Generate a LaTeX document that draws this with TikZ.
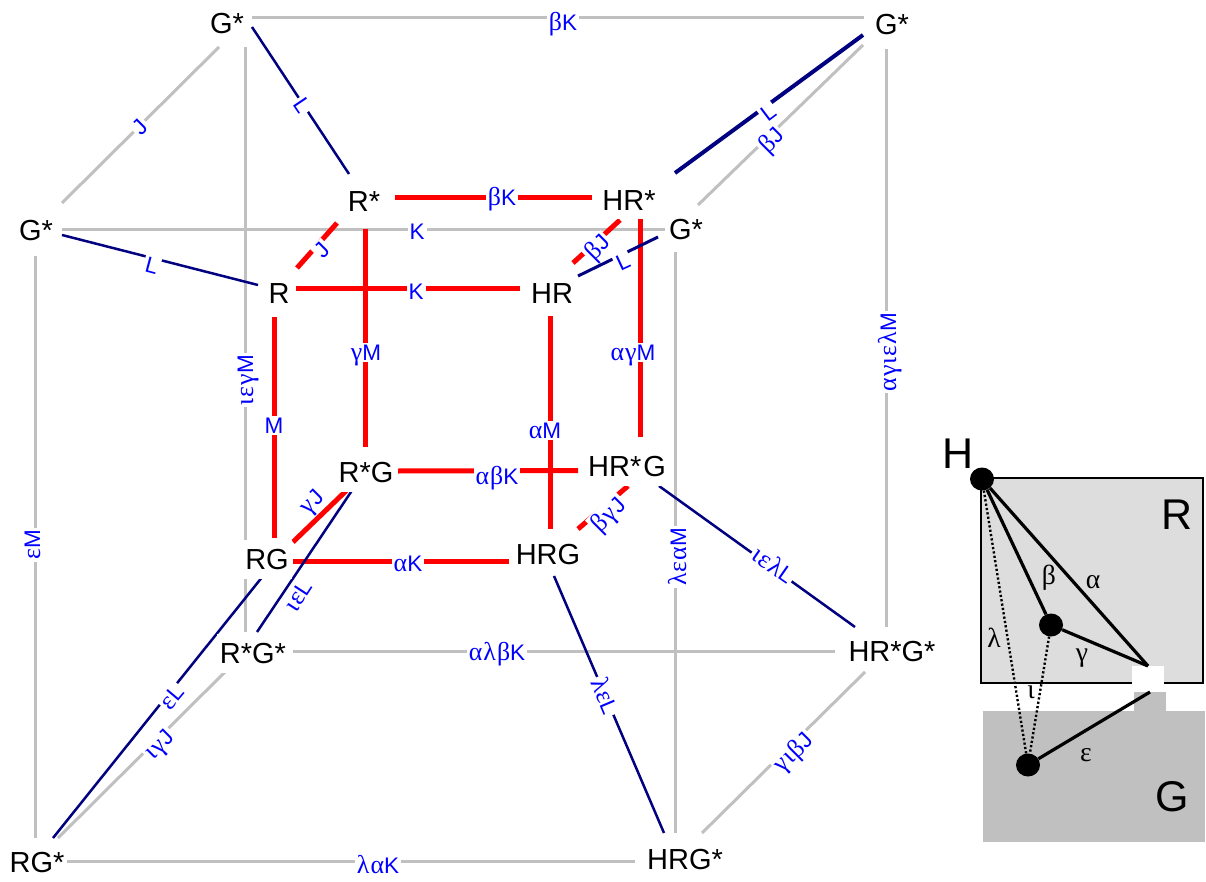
\documentclass[tikz,border=0pt]{standalone}
\usepackage{fontspec}
\setmainfont{Liberation Sans}
\newfontfamily\grk[Scale=1.15,LetterSpace=4]{Liberation Serif}
\newcommand{\gk}[1]{{\grk #1}}
\usetikzlibrary{shapes.geometric}
\pgfdeclarelayer{lines}
\pgfsetlayers{lines,main}
\definecolor{edgegray}{HTML}{C0C0C0}
\definecolor{edgenavy}{HTML}{000080}
\definecolor{boxlight}{HTML}{DDDDDD}
\tikzset{
  vx/.style={font=\fontsize{29}{30}\selectfont,text=black,text height=21pt,text depth=0pt,fill=white,inner xsep=3pt,inner ysep=9pt},
  lab/.style={font=\fontsize{22.5}{23}\selectfont,text=blue,text height=16pt,text depth=0pt,fill=white,inner xsep=2pt,inner ysep=1.5pt},
  gline/.style={draw=edgegray,line width=3pt},
  nline/.style={draw=edgenavy,line width=2.5pt},
  rline/.style={draw=red,line width=5pt},
  dot/.style={ellipse,fill=black,inner sep=0pt,minimum width=24pt,minimum height=23pt},
  blk/.style={draw=black,line width=3.2pt},
  dots/.style={draw=black,line width=2.4pt,dash pattern=on 2.2pt off 2.2pt},
  glab/.style={font=\fontsize{24}{25}\selectfont\grk,text=black,inner sep=0pt},
  big/.style={font=\fontsize{43}{44}\selectfont,text=black,inner sep=0pt,text height=31pt,text depth=0pt}
}
\begin{document}
\begin{tikzpicture}[x=1pt,y=-1pt]
\useasboundingbox (0,0) rectangle (1206,882);
% vertices
\node[vx] (Gtl) at (227,23) {G*};
\node[vx] (Gtr) at (892,24) {G*};
\node[vx] (Gml) at (36,230) {G*};
\node[vx] (Gmr) at (686,229) {G*};
\node[vx] (RsGs) at (253,653) {R*G*};
\node[vx] (HRsGs) at (892,651) {HR*G*};
\node[vx] (RGs) at (37,862) {RG*};
\node[vx] (HRGs) at (685,859) {HRG*};
\node[vx] (Rs) at (364,201) {R*};
\node[vx] (HRs) at (629,200) {HR*};
\node[vx] (R) at (279,293) {R};
\node[vx] (HR) at (552,293) {HR};
\node[vx] (RsG) at (366,472) {R*G};
\node[vx] (HRsG) at (627,466) {HR*\kern2pt G};
\node[vx] (RG) at (267,559) {RG};
\node[vx] (HRG) at (548,554) {HRG};
% right-hand panel shapes and nodes
\begin{pgfonlayer}{lines}
\fill[edgegray] (983,711) rectangle (1205,842);
\fill[edgegray] (1134,692) rectangle (1166,711);
\filldraw[fill=boxlight,draw=black,line width=1.5pt] (981,478) rectangle (1203,683);
\fill[white] (1132,666) rectangle (1164,692);
\end{pgfonlayer}
\coordinate (apexA) at (1148,666);
\coordinate (apexB) at (1150,692);
\node[dot] (dH) at (982,479) {};
\node[dot] (dM) at (1051,625) {};
\node[dot] (dB) at (1028,765) {};
\begin{pgfonlayer}{lines}
\draw[blk] (dH) -- (apexA);
\draw[blk] (dH) -- (dM);
\draw[blk] (dM) -- (apexA);
\draw[blk] (dB) -- (apexB);
\draw[dots] (dH) -- (dB);
\draw[dots] (dM) -- (dB);
% gray edges
\draw[gline] ([shift={(25,-5)}]Gtl.center) -- ([shift={(-28,-6)}]Gtr.center);
\draw[gline] ([shift={(-8,24)}]Gtl.center) -- ([shift={(26,-27)}]Gml.center);
\draw[gline] ([shift={(-29,21)}]Gtr.center) -- ([shift={(12,-24)}]Gmr.center);
\draw[gline] ([shift={(26,-.5)}]Gml.center) -- ([shift={(-21,.5)}]Gmr.center);
\draw[gline] ([shift={(18.5,24)}]Gtl.center) -- ([shift={(-7.5,-21)}]RsGs.center);
\draw[gline] ([shift={(-.5,26)}]Gml.center) -- ([shift={(-1.5,-24)}]RGs.center);
\draw[gline] ([shift={(-5.5,25)}]Gtr.center) -- ([shift={(-5.5,-24)}]HRsGs.center);
\draw[gline] ([shift={(-10.5,23)}]Gmr.center) -- ([shift={(-9.5,-26)}]HRGs.center);
\draw[gline] ([shift={(40,-2)}]RsGs.center) -- ([shift={(-57,0)}]HRsGs.center);
\draw[gline] ([shift={(-26,17)}]RsGs.center) -- ([shift={(21,-24)}]RGs.center);
\draw[gline] ([shift={(-27,21)}]HRsGs.center) -- ([shift={(17,-26)}]HRGs.center);
\draw[gline] ([shift={(29,-1)}]RGs.center) -- ([shift={(-50,2)}]HRGs.center);
% red edges
\draw[rline] ([shift={(31,-3)}]Rs.center) -- ([shift={(-37,-2)}]HRs.center);
\draw[rline] ([shift={(-27,22)}]Rs.center) -- ([shift={(18,-25)}]R.center);
\draw[rline] ([shift={(-9,20)}]HRs.center) -- ([shift={(21,-30)}]HR.center);
\draw[rline] ([shift={(1,28)}]Rs.center) -- ([shift={(-1,-25)}]RsG.center);
\draw[rline] ([shift={(11,19)}]HRs.center) -- ([shift={(13,-29)}]HRsG.center);
\draw[rline] ([shift={(17,-4)}]R.center) -- ([shift={(-32,-4)}]HR.center);
\draw[rline] ([shift={(-5,24)}]R.center) -- ([shift={(7,-21)}]RG.center);
\draw[rline] ([shift={(-2,23)}]HR.center) -- ([shift={(2,-25)}]HRG.center);
\draw[rline] ([shift={(32,-1)}]RsG.center) -- ([shift={(-49,4.5)}]HRsG.center);
\draw[rline] ([shift={(-18,17)}]RsG.center) -- ([shift={(26,-17)}]RG.center);
\draw[rline] ([shift={(1,20)}]HRsG.center) -- ([shift={(30,-25)}]HRG.center);
\draw[rline] ([shift={(26,2)}]RG.center) -- ([shift={(-39,7)}]HRG.center);
% navy edges
\draw[nline] ([shift={(25,4)}]Gtl.center) -- ([shift={(-15,-27)}]Rs.center);
\draw[nline,line width=4pt] ([shift={(-29,11)}]Gtr.center) -- ([shift={(46,-27)}]HRs.center);
\draw[nline] ([shift={(26,5)}]Gml.center) -- ([shift={(-21,-8)}]R.center);
\draw[nline,line width=3pt] ([shift={(-28,8)}]Gmr.center) -- ([shift={(26,-17)}]HR.center);
\draw[nline] ([shift={(-13,17)}]RsG.center) -- ([shift={(4,-21)}]RsGs.center);
\draw[nline] ([shift={(-4,17)}]RG.center) -- ([shift={(16,-24)}]RGs.center);
\draw[nline] ([shift={(32,20)}]HRsG.center) -- ([shift={(-37,-24)}]HRsGs.center);
\draw[nline] ([shift={(6,22)}]HRG.center) -- ([shift={(-21,-26)}]HRGs.center);
\end{pgfonlayer}
% edge labels
\node[lab] (l1) at (563,23) {\gk{β}K};
\node[lab,rotate=45] (l2) at (140,127) {J};
\node[lab,rotate=45] (l3) at (771,140) {\gk{β}J};
\node[lab,rotate=37] (l4) at (768,112) {L};
\node[lab,rotate=-56] (l5) at (303,105) {L};
\node[lab,rotate=-15] (l6) at (152,265) {L};
\node[lab] (l7) at (417,232) {K};
\node[lab,rotate=90] (l8) at (245,380) {\gk{ιεγ}M};
\node[lab,rotate=90] (l9) at (888,352) {\gk{αγιελ}M};
\node[lab,rotate=90] (l10) at (32,545) {\gk{ε}M};
\node[lab,rotate=90] (l11) at (678,557) {\gk{λεα}M};
\node[lab] (l12) at (497,652) {\gk{αλβ}K};
\node[lab,rotate=45] (l13) at (159,744) {\gk{ιγ}\kern1pt J};
\node[lab,rotate=45] (l14) at (793,752) {\gk{γιβ}J};
\node[lab] (l15) at (378,865) {\gk{λα}K};
\node[lab,rotate=50] (l16) at (172,697) {\gk{ε}L};
\node[lab,rotate=57] (l17) at (298,596) {\gk{ιε}L};
\node[lab,rotate=-35] (l18) at (773,565) {\gk{ιελ}L};
\node[lab,rotate=-67] (l19) at (605,696) {\gk{λε}L};
\node[lab] (l20) at (502,198) {\gk{β}K};
\node[lab,rotate=45] (l21) at (322,250) {J};
\node[lab,rotate=45] (l22) at (597,247) {\gk{β}J};
\node[lab,rotate=25] (l23) at (623,262) {L};
\node[lab] (l24) at (416,291) {K};
\node[lab] (l25) at (366,352) {\gk{γ}M};
\node[lab] (l26) at (633,352) {\gk{αγ}M};
\node[lab] (l27) at (274,425) {M};
\node[lab] (l28) at (545,430) {\gk{α}M};
\node[lab] (l29) at (497,476) {\gk{αβ}K};
\node[lab] (l30) at (408,563) {\gk{α}K};
\node[lab,rotate=45] (l31) at (311,501) {\gk{γ}\kern1pt J};
\node[lab,rotate=45,inner ysep=3.5pt] (l32) at (608,514) {\gk{βγ}\kern1pt J};
% panel labels
\node[big] (tH) at (958,452.5) {H};
\node[big] (tR) at (1177,514) {R};
\node[big] (tG) at (1172.5,796) {G};
\node[glab] (ga) at (1093,582) {α};
\node[glab] (gb) at (1049,578) {β};
\node[glab] (gl) at (994,638) {λ};
\node[glab] (gg) at (1082,658) {γ};
\node[glab] (gi) at (1031,692) {ι};
\node[glab] (ge) at (1086,755) {ε};
\end{tikzpicture}
\end{document}
